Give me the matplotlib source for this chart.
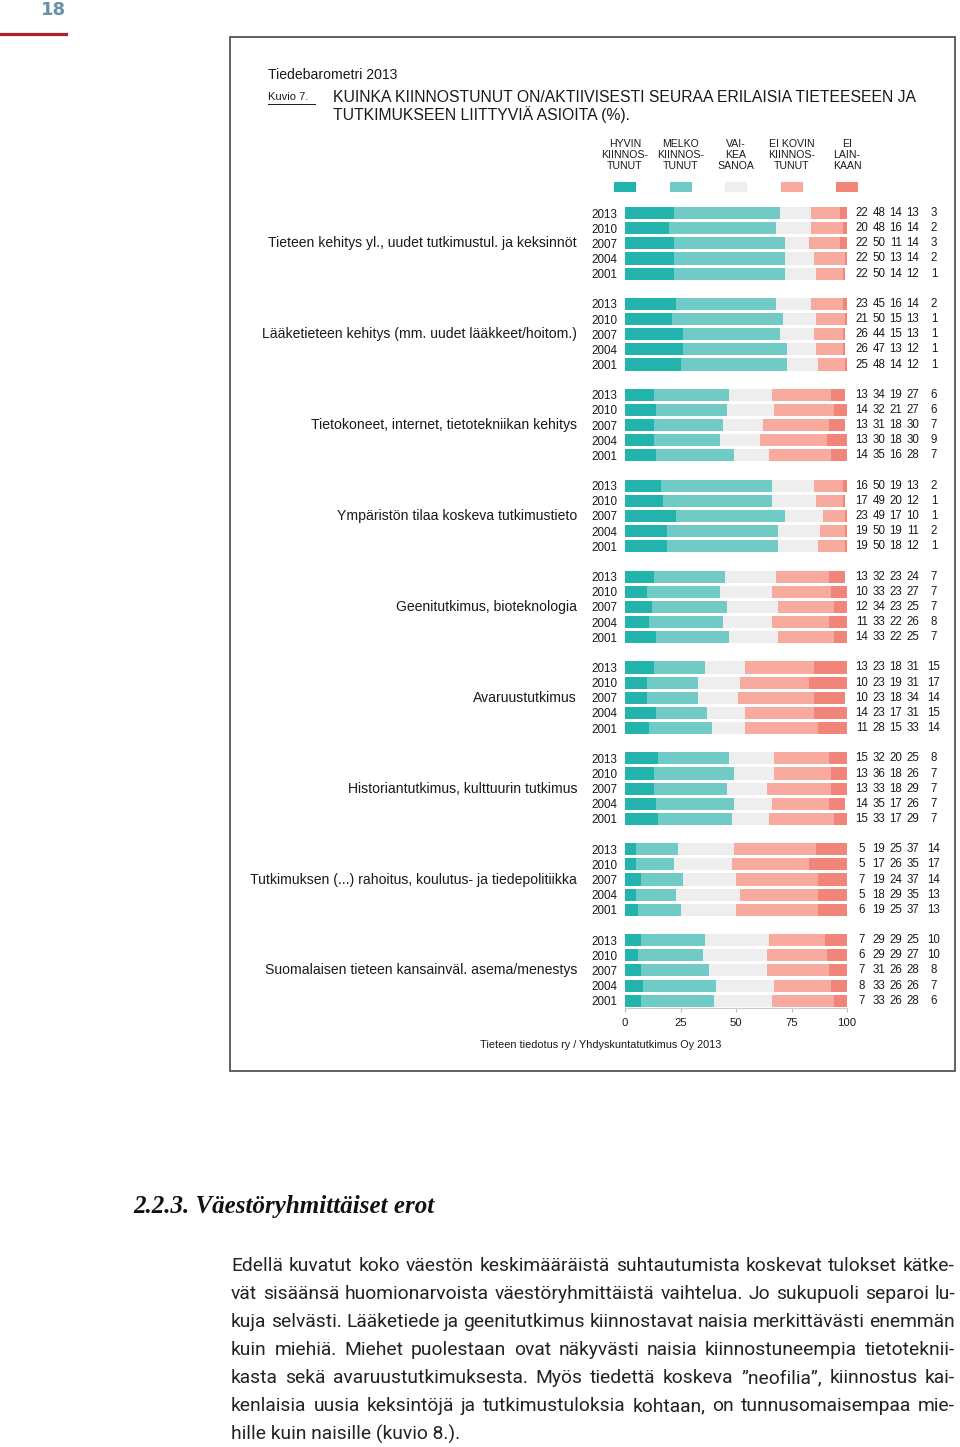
import matplotlib
matplotlib.use("Agg")
import matplotlib.pyplot as plt
from matplotlib import font_manager
from matplotlib.patches import Rectangle
from matplotlib.lines import Line2D

# Data: Tiedebarometri 2013, kuvio 7 (%)
topics = [
    "Tieteen kehitys yl., uudet tutkimustul. ja keksinnöt",
    "Lääketieteen kehitys (mm. uudet lääkkeet/hoitom.)",
    "Tietokoneet, internet, tietotekniikan kehitys",
    "Ympäristön tilaa koskeva tutkimustieto",
    "Geenitutkimus, bioteknologia",
    "Avaruustutkimus",
    "Historiantutkimus, kulttuurin tutkimus",
    "Tutkimuksen (...) rahoitus, koulutus- ja tiedepolitiikka",
    "Suomalaisen tieteen kansainväl. asema/menestys",
]
years = ["2013", "2010", "2007", "2004", "2001"]

# one value per topic/year row, five rows per topic (2013 ... 2001)
hyvin = [22, 20, 22, 22, 22,  23, 21, 26, 26, 25,  13, 14, 13, 13, 14,
         16, 17, 23, 19, 19,  13, 10, 12, 11, 14,  13, 10, 10, 14, 11,
         15, 13, 13, 14, 15,   5,  5,  7,  5,  6,   7,  6,  7,  8,  7]
melko = [48, 48, 50, 50, 50,  45, 50, 44, 47, 48,  34, 32, 31, 30, 35,
         50, 49, 49, 50, 50,  32, 33, 34, 33, 33,  23, 23, 23, 23, 28,
         32, 36, 33, 35, 33,  19, 17, 19, 18, 19,  29, 29, 31, 33, 33]
vaikea = [14, 16, 11, 13, 14,  16, 15, 15, 13, 14,  19, 21, 18, 18, 16,
          19, 20, 17, 19, 18,  23, 23, 23, 22, 22,  18, 19, 18, 17, 15,
          20, 18, 18, 17, 17,  25, 26, 24, 29, 25,  29, 29, 26, 26, 26]
ei_kovin = [13, 14, 14, 14, 12,  14, 13, 13, 12, 12,  27, 27, 30, 30, 28,
            13, 12, 10, 11, 12,  24, 27, 25, 26, 25,  31, 31, 34, 31, 33,
            25, 26, 29, 26, 29,  37, 35, 37, 35, 37,  25, 27, 28, 26, 28]
ei_lainkaan = [3, 2, 3, 2, 1,  2, 1, 1, 1, 1,  6, 6, 7, 9, 7,
               2, 1, 1, 2, 1,  7, 7, 7, 8, 7,  15, 17, 14, 15, 14,
               8, 7, 7, 7, 7,  14, 17, 14, 13, 13,  10, 10, 8, 7, 6]

series = [hyvin, melko, vaikea, ei_kovin, ei_lainkaan]
legend_labels = ["HYVIN\nKIINNOS-\nTUNUT", "MELKO\nKIINNOS-\nTUNUT", "VAI-\nKEA\nSANOA",
                 "EI KOVIN\nKIINNOS-\nTUNUT", "EI\nLAIN-\nKAAN"]
colors = ["#22b4ac", "#70cbc6", "#eeeeee", "#f8aa9f", "#f1857a"]

paragraph = [
    "Edellä kuvatut koko väestön keskimääräistä suhtautumista koskevat tulokset kätke-",
    "vät sisäänsä huomionarvoista väestöryhmittäistä vaihtelua. Jo sukupuoli separoi lu-",
    "kuja selvästi. Lääketiede ja geenitutkimus kiinnostavat naisia merkittävästi enemmän",
    "kuin miehiä. Miehet puolestaan ovat näkyvästi naisia kiinnostuneempia tietoteknii-",
    "kasta sekä avaruustutkimuksesta. Myös tiedettä koskeva ”neofilia”, kiinnostus kai-",
    "kenlaisia uusia keksintöjä ja tutkimustuloksia kohtaan, on tunnusomaisempaa mie-",
    "hille kuin naisille (kuvio 8.).",
]

W, H = 960, 1447
fig = plt.figure(figsize=(W / 100, H / 100), dpi=100)
sans = "Liberation Sans"
ink = "#1a1a1a"

installed = {f.name for f in font_manager.fontManager.ttflist}
body_font = "Liberation Sans Narrow" if "Liberation Sans Narrow" in installed else "Roboto"


def fx(px):
    return px / W


def fy(py):
    return 1 - py / H


# page number and red rule
fig.text(fx(66), fy(10), "18", ha="right", va="center", fontsize=13,
         fontweight="bold", color="#6a8fa8", family="DejaVu Sans")
fig.add_artist(Line2D([0, fx(66)], [fy(34), fy(34)], color="#b01c30", lw=2.3))

# chart frame
fig.add_artist(Rectangle((fx(230), fy(1071)), fx(955) - fx(230), fy(37) - fy(1071),
                         fill=False, ec="#555555", lw=1.3))

fig.text(fx(268), fy(75), "Tiedebarometri 2013", ha="left", va="center",
         fontsize=10.1, family=sans, color=ink)
fig.text(fx(268), fy(97), "Kuvio 7.", ha="left", va="center", fontsize=8,
         family=sans, color=ink)
fig.add_artist(Line2D([fx(268), fx(315)], [fy(104), fy(104)], color=ink, lw=0.7))
fig.text(fx(333), fy(97), "KUINKA KIINNOSTUNUT ON/AKTIIVISESTI SEURAA ERILAISIA TIETEESEEN JA",
         ha="left", va="center", fontsize=11.3, family=sans, color=ink)
fig.text(fx(333), fy(115), "TUTKIMUKSEEN LIITTYVIÄ ASIOITA (%).",
         ha="left", va="center", fontsize=11.3, family=sans, color=ink)

# bars
n = len(hyvin)
pos = [g * 6 + r for g in range(len(topics)) for r in range(len(years))]
ax = fig.add_axes([fx(625), fy(1008), fx(847) - fx(625), fy(200) - fy(1008)])
left = [0] * n
for vals, col in zip(series, colors):
    ax.barh(pos, vals, left=left, height=0.8, color=col, edgecolor="none")
    left = [a + b for a, b in zip(left, vals)]

ax.set_xlim(0, 100)
ax.set_ylim(52.48, -0.86)
ax.set_yticks(pos)
ax.set_yticklabels(years * len(topics), fontsize=8.4, family=sans, color=ink)
ax.tick_params(axis="y", length=0, pad=5.5)
ax.set_xticks([0, 25, 50, 75, 100])
ax.set_xticklabels(["0", "25", "50", "75", "100"], fontsize=8.2, family=sans, color=ink)
ax.tick_params(axis="x", length=3, color="#bbbbbb", pad=4)
for s in ["top", "right", "left"]:
    ax.spines[s].set_visible(False)
ax.spines["bottom"].set_color("#cccccc")
ax.spines["bottom"].set_linewidth(0.8)

# topic labels and value columns
num_offsets = [15, 32, 49, 66, 87]
for g, topic in enumerate(topics):
    ax.annotate(topic, xy=(0, g * 6 + 2), xycoords=("axes fraction", "data"),
                xytext=(-48 * 0.72, 0), textcoords="offset points",
                ha="right", va="center", fontsize=10.1, family=sans, color=ink)
for i in range(n):
    for vals, off in zip(series, num_offsets):
        ax.annotate(str(vals[i]), xy=(1, pos[i]), xycoords=("axes fraction", "data"),
                    xytext=(off * 0.72, 0), textcoords="offset points",
                    ha="center", va="center", fontsize=8.3, family=sans, color=ink)

# legend
for k, (lab, col) in enumerate(zip(legend_labels, colors)):
    cx = 625 + k * 55.5
    fig.text(fx(cx), fy(139), lab, ha="center", va="top", fontsize=7.6,
             family=sans, color=ink, linespacing=1.15)
    fig.add_artist(Rectangle((fx(cx - 11), fy(192)), fx(22), fy(182) - fy(192),
                             fc=col, ec="none"))

fig.text(fx(480), fy(1045), "Tieteen tiedotus ry / Yhdyskuntatutkimus Oy 2013",
         ha="left", va="center", fontsize=7.8, family=sans, color=ink)

# section heading
fig.text(fx(133), fy(1207), "2.2.3. Väestöryhmittäiset erot", ha="left", va="center",
         fontsize=18, fontweight="bold", style="italic", family="Liberation Serif",
         color="#111111")

# justified body text
fig.canvas.draw()
renderer = fig.canvas.get_renderer()
x0, x1 = 231, 955
psize = 14.5 if body_font == "Liberation Sans Narrow" else 13.85
pfont = dict(fontsize=psize, family=body_font, color="#222222", va="center", ha="left")
for k, line in enumerate(paragraph):
    y = fy(1266 + 28 * k)
    if k == len(paragraph) - 1:
        fig.text(fx(x0), y, line, **pfont)
        continue
    words = line.split(" ")
    widths = []
    for w in words:
        t = fig.text(0, 0, w, **pfont)
        widths.append(t.get_window_extent(renderer).width)
        t.remove()
    gap = (x1 - x0 - sum(widths)) / (len(words) - 1)
    x = x0
    for w, wd in zip(words, widths):
        fig.text(fx(x), y, w, **pfont)
        x += wd + gap

fig.savefig("out.png", dpi=100)
